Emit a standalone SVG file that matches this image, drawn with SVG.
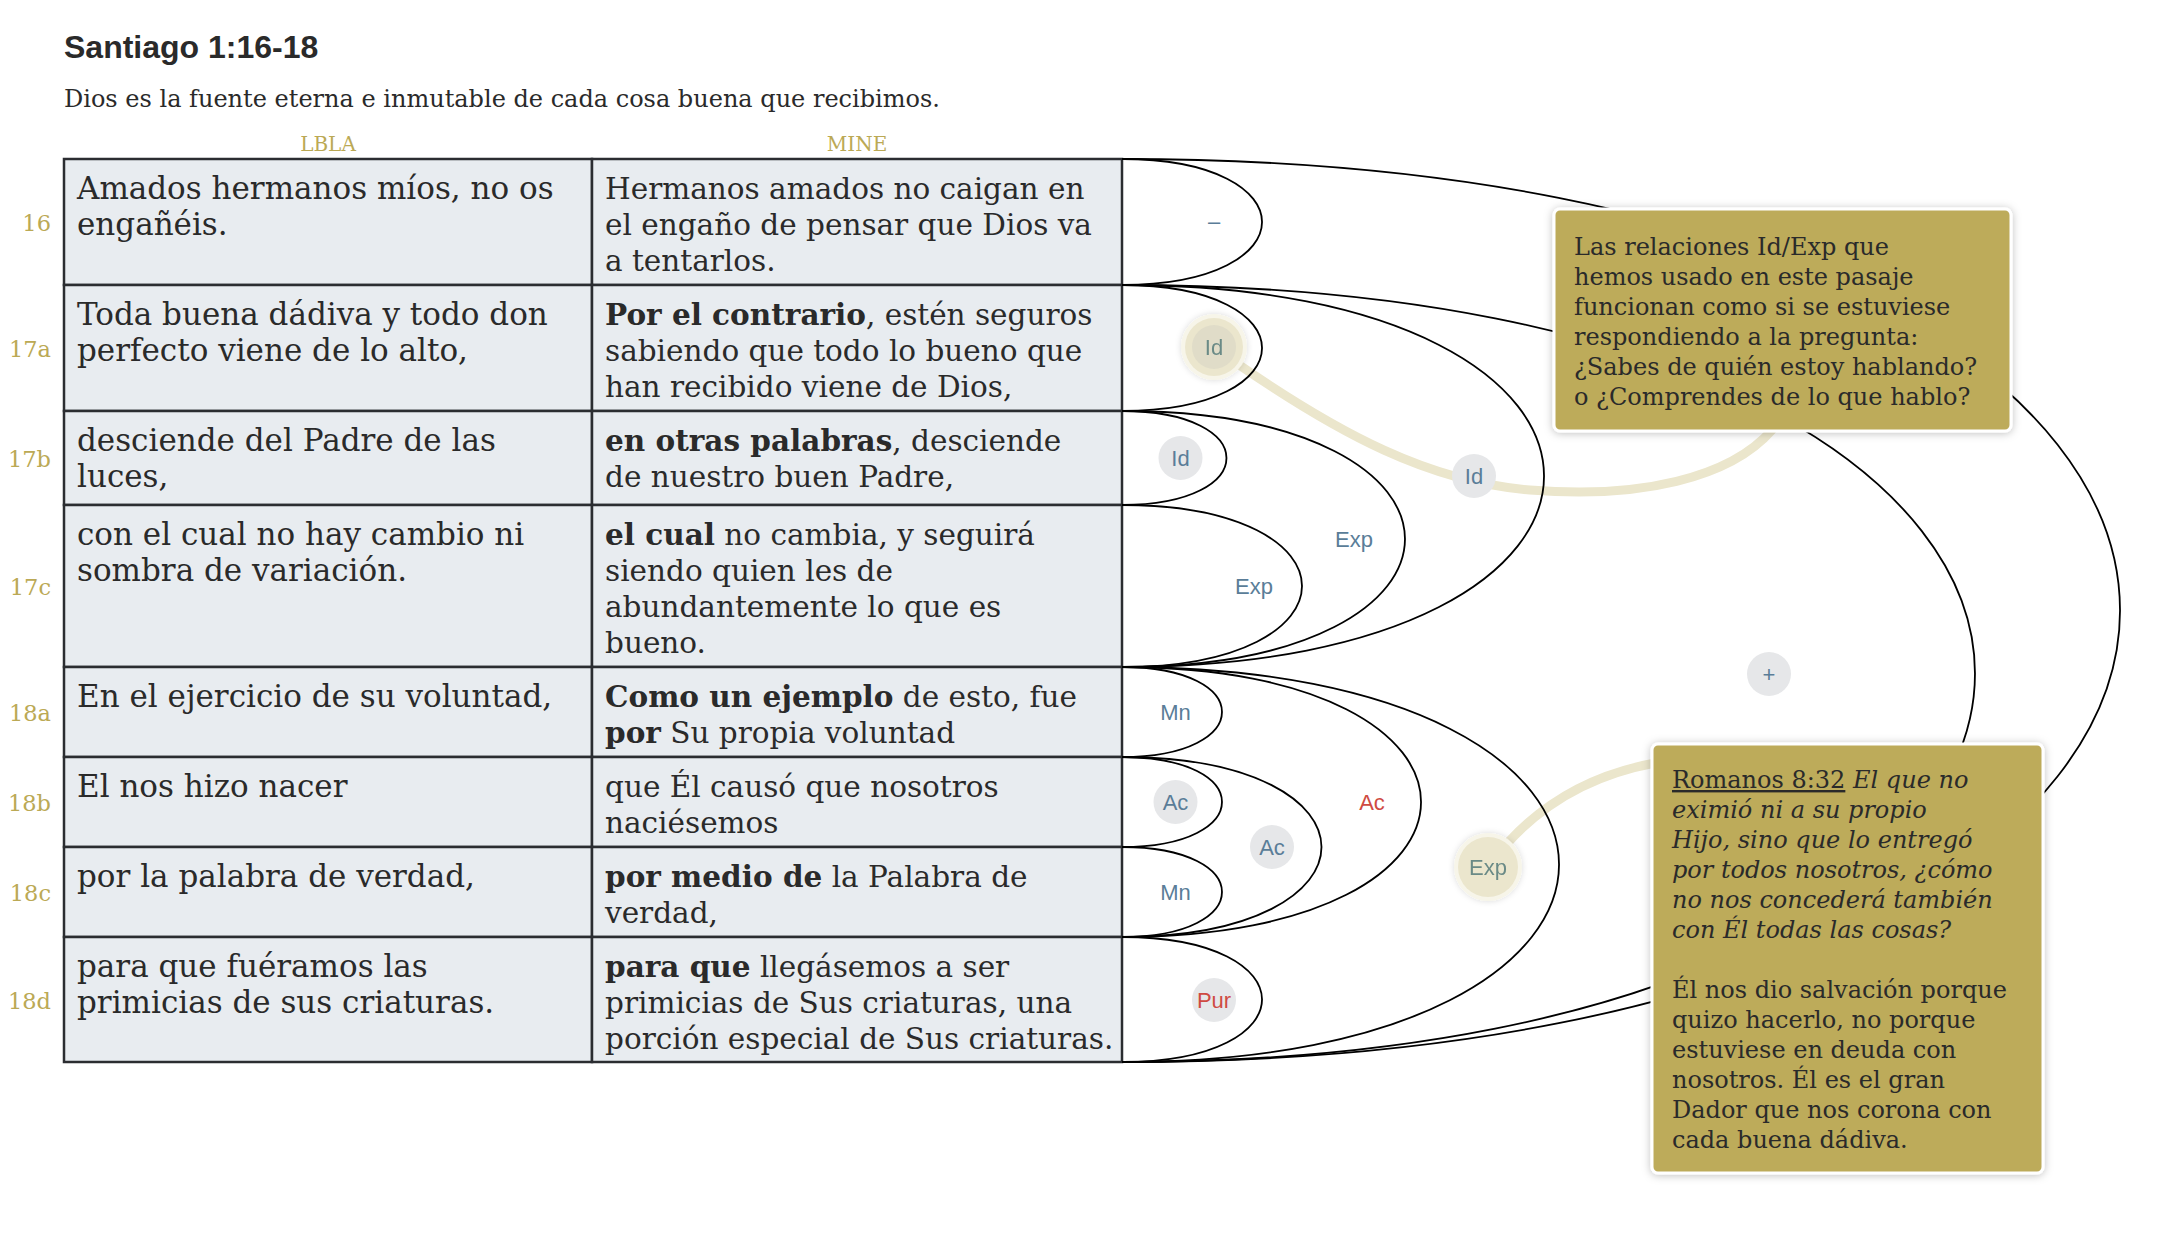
<svg xmlns="http://www.w3.org/2000/svg" width="2176" height="1234" viewBox="0 0 2176 1234">
<style>
.title{font-family:"Liberation Sans",Arial,sans-serif;font-weight:bold;font-size:32px;fill:#2a2a2a}
.sub{font-family:"DejaVu Serif",Georgia,serif;font-size:24px;fill:#2a2a2a}
.hdr{font-family:"DejaVu Serif",Georgia,serif;font-size:20px;fill:#bba955;text-anchor:middle}
.vn{font-family:"DejaVu Serif",Georgia,serif;font-size:22.5px;fill:#bba955;text-anchor:end}
.cell{font-family:"DejaVu Serif",Georgia,serif;font-size:29.5px;fill:#2a2a2a}
.lb{font-size:31px}
.b{font-weight:bold}
.row{fill:#e8ecf0;stroke:#2b2d31;stroke-width:2.5}
.arc{fill:none;stroke:#000;stroke-width:1.8}
.lbl{font-family:"Liberation Sans",Arial,sans-serif;font-size:22px;fill:#5a7d98;text-anchor:middle}
.red{fill:#cf4a42}
.hl{fill:#6a8a86}
.dot{fill:#e6e7e9}
.glow{fill:#f7f5e9}
.glow2{fill:#ebe6cd}
.gline{fill:none;stroke:#ebe6cc;stroke-width:9;stroke-linecap:round}
.note{fill:#bdab5a;stroke:#ffffff;stroke-width:3}
.nt{font-family:"DejaVu Serif",Georgia,serif;font-size:24px;fill:#2a2a2a}
</style>
<defs>
<filter id="sh" x="-20%" y="-20%" width="140%" height="140%">
<feDropShadow dx="0" dy="1" stdDeviation="4" flood-color="#000" flood-opacity="0.25"/>
</filter>
<filter id="sh2" x="-40%" y="-40%" width="180%" height="180%">
<feDropShadow dx="0" dy="0" stdDeviation="3" flood-color="#000" flood-opacity="0.15"/>
</filter>
</defs>
<rect width="2176" height="1234" fill="#ffffff"/>

<text class="title" x="64" y="58">Santiago 1:16-18</text>
<text class="sub" x="64" y="107">Dios es la fuente eterna e inmutable de cada cosa buena que recibimos.</text>
<text class="hdr" x="328" y="151">LBLA</text>
<text class="hdr" x="857" y="151">MINE</text>

<g id="table">
<g id="row-16">
<rect class="row" x="64" y="159" width="528" height="126"/>
<rect class="row" x="592" y="159" width="530" height="126"/>
<text class="vn" x="51" y="231">16</text>
<text class="cell lb" x="77" y="199">Amados hermanos míos, no os</text>
<text class="cell lb" x="77" y="235">engañéis.</text>
<text class="cell" x="605" y="199">Hermanos amados no caigan en</text>
<text class="cell" x="605" y="235">el engaño de pensar que Dios va</text>
<text class="cell" x="605" y="271">a tentarlos.</text>
</g>
<g id="row-17a">
<rect class="row" x="64" y="285" width="528" height="126"/>
<rect class="row" x="592" y="285" width="530" height="126"/>
<text class="vn" x="51" y="357">17a</text>
<text class="cell lb" x="77" y="325">Toda buena dádiva y todo don</text>
<text class="cell lb" x="77" y="361">perfecto viene de lo alto,</text>
<text class="cell" x="605" y="325"><tspan class="b">Por el contrario</tspan>, estén seguros</text>
<text class="cell" x="605" y="361">sabiendo que todo lo bueno que</text>
<text class="cell" x="605" y="397">han recibido viene de Dios,</text>
</g>
<g id="row-17b">
<rect class="row" x="64" y="411" width="528" height="94"/>
<rect class="row" x="592" y="411" width="530" height="94"/>
<text class="vn" x="51" y="467">17b</text>
<text class="cell lb" x="77" y="451">desciende del Padre de las</text>
<text class="cell lb" x="77" y="487">luces,</text>
<text class="cell" x="605" y="451"><tspan class="b">en otras palabras</tspan>, desciende</text>
<text class="cell" x="605" y="487">de nuestro buen Padre,</text>
</g>
<g id="row-17c">
<rect class="row" x="64" y="505" width="528" height="162"/>
<rect class="row" x="592" y="505" width="530" height="162"/>
<text class="vn" x="51" y="595">17c</text>
<text class="cell lb" x="77" y="545">con el cual no hay cambio ni</text>
<text class="cell lb" x="77" y="581">sombra de variación.</text>
<text class="cell" x="605" y="545"><tspan class="b">el cual</tspan> no cambia, y seguirá</text>
<text class="cell" x="605" y="581">siendo quien les de</text>
<text class="cell" x="605" y="617">abundantemente lo que es</text>
<text class="cell" x="605" y="653">bueno.</text>
</g>
<g id="row-18a">
<rect class="row" x="64" y="667" width="528" height="90"/>
<rect class="row" x="592" y="667" width="530" height="90"/>
<text class="vn" x="51" y="721">18a</text>
<text class="cell lb" x="77" y="707">En el ejercicio de su voluntad,</text>
<text class="cell" x="605" y="707"><tspan class="b">Como un ejemplo</tspan> de esto, fue</text>
<text class="cell" x="605" y="743"><tspan class="b">por</tspan> Su propia voluntad</text>
</g>
<g id="row-18b">
<rect class="row" x="64" y="757" width="528" height="90"/>
<rect class="row" x="592" y="757" width="530" height="90"/>
<text class="vn" x="51" y="811">18b</text>
<text class="cell lb" x="77" y="797">El nos hizo nacer</text>
<text class="cell" x="605" y="797">que Él causó que nosotros</text>
<text class="cell" x="605" y="833">naciésemos</text>
</g>
<g id="row-18c">
<rect class="row" x="64" y="847" width="528" height="90"/>
<rect class="row" x="592" y="847" width="530" height="90"/>
<text class="vn" x="51" y="901">18c</text>
<text class="cell lb" x="77" y="887">por la palabra de verdad,</text>
<text class="cell" x="605" y="887"><tspan class="b">por medio de</tspan> la Palabra de</text>
<text class="cell" x="605" y="923">verdad,</text>
</g>
<g id="row-18d">
<rect class="row" x="64" y="937" width="528" height="125"/>
<rect class="row" x="592" y="937" width="530" height="125"/>
<text class="vn" x="51" y="1009">18d</text>
<text class="cell lb" x="77" y="977">para que fuéramos las</text>
<text class="cell lb" x="77" y="1013">primicias de sus criaturas.</text>
<text class="cell" x="605" y="977"><tspan class="b">para que</tspan> llegásemos a ser</text>
<text class="cell" x="605" y="1013">primicias de Sus criaturas, una</text>
<text class="cell" x="605" y="1049">porción especial de Sus criaturas.</text>
</g>
</g>

<g id="highlight-links">
<path class="gline" d="M1232 360 C1340 435 1430 482 1530 490 C1640 499 1730 478 1772 430"/>
<path class="gline" d="M1492 862 Q1552 782 1655 763"/>
</g>

<g id="connectors">
<path class="arc" d="M1122 159 C2452.7 159 2452.7 1062 1122 1062"/>
<path class="arc" d="M1122 285 C2259.3 285 2259.3 1062 1122 1062"/>
<path class="arc" d="M1122 159 C1308.7 159 1308.7 285 1122 285"/>
<path class="arc" d="M1122 285 C1308.7 285 1308.7 411 1122 411"/>
<path class="arc" d="M1122 411 C1261.3 411 1261.3 505 1122 505"/>
<path class="arc" d="M1122 505 C1362 505 1362 667 1122 667"/>
<path class="arc" d="M1122 411 C1499.3 411 1499.3 667 1122 667"/>
<path class="arc" d="M1122 285 C1684.7 285 1684.7 667 1122 667"/>
<path class="arc" d="M1122 667 C1255.3 667 1255.3 757 1122 757"/>
<path class="arc" d="M1122 757 C1255.3 757 1255.3 847 1122 847"/>
<path class="arc" d="M1122 847 C1255.3 847 1255.3 937 1122 937"/>
<path class="arc" d="M1122 757 C1388 757 1388 937 1122 937"/>
<path class="arc" d="M1122 667 C1520.7 667 1520.7 937 1122 937"/>
<path class="arc" d="M1122 937 C1308.7 937 1308.7 1062 1122 1062"/>
<path class="arc" d="M1122 667 C1704.7 667 1704.7 1062 1122 1062"/>
</g>

<g id="label-16"><text class="lbl" x="1214" y="229">–</text></g>
<g id="label-17a" filter="url(#sh2)">
<circle class="glow" cx="1214" cy="347" r="33"/>
<circle class="glow2" cx="1214" cy="347" r="29"/>
<circle cx="1214" cy="347" r="22" fill="#e0dcc8"/>
<text class="lbl hl" x="1214" y="355">Id</text>
</g>
<g id="label-17b"><circle class="dot" cx="1180.5" cy="458" r="22"/><text class="lbl" x="1180.5" y="466">Id</text></g>
<g id="label-17c"><text class="lbl" x="1254" y="594">Exp</text></g>
<g id="label-17b-17c"><text class="lbl" x="1354" y="547">Exp</text></g>
<g id="label-17a-17c"><circle class="dot" cx="1474" cy="476" r="22"/><text class="lbl" x="1474" y="484">Id</text></g>
<g id="label-17a-18d"><circle class="dot" cx="1769" cy="674" r="22"/><text class="lbl" x="1769" y="682">+</text></g>
<g id="label-18a"><text class="lbl" x="1175.5" y="720">Mn</text></g>
<g id="label-18b"><circle class="dot" cx="1175.5" cy="802" r="22"/><text class="lbl" x="1175.5" y="810">Ac</text></g>
<g id="label-18c"><text class="lbl" x="1175.5" y="900">Mn</text></g>
<g id="label-18b-18c"><circle class="dot" cx="1272" cy="847" r="22"/><text class="lbl" x="1272" y="855">Ac</text></g>
<g id="label-18a-18c"><text class="lbl red" x="1372" y="810">Ac</text></g>
<g id="label-18d"><circle class="dot" cx="1214" cy="1000" r="22"/><text class="lbl red" x="1214" y="1008">Pur</text></g>
<g id="label-18a-18d" filter="url(#sh2)">
<circle class="glow" cx="1488" cy="867" r="34"/>
<circle class="glow2" cx="1488" cy="867" r="30"/>
<text class="lbl hl" x="1488" y="875">Exp</text>
</g>

<g id="note-1">
<rect class="note" x="1554" y="209" width="457" height="222" rx="6" filter="url(#sh)"/>
<text class="nt" x="1574" y="255">Las relaciones Id/Exp que</text>
<text class="nt" x="1574" y="285">hemos usado en este pasaje</text>
<text class="nt" x="1574" y="315">funcionan como si se estuviese</text>
<text class="nt" x="1574" y="345">respondiendo a la pregunta:</text>
<text class="nt" x="1574" y="375">¿Sabes de quién estoy hablando?</text>
<text class="nt" x="1574" y="405">o ¿Comprendes de lo que hablo?</text>
</g>
<g id="note-2">
<rect class="note" x="1652" y="744" width="391" height="429" rx="6" filter="url(#sh)"/>
<text class="nt" x="1672" y="788"><tspan text-decoration="underline">Romanos 8:32</tspan> <tspan font-style="italic">El que no</tspan></text>
<text class="nt" x="1672" y="818" font-style="italic">eximió ni a su propio</text>
<text class="nt" x="1672" y="848" font-style="italic">Hijo, sino que lo entregó</text>
<text class="nt" x="1672" y="878" font-style="italic">por todos nosotros, ¿cómo</text>
<text class="nt" x="1672" y="908" font-style="italic">no nos concederá también</text>
<text class="nt" x="1672" y="938" font-style="italic">con Él todas las cosas?</text>
<text class="nt" x="1672" y="998">Él nos dio salvación porque</text>
<text class="nt" x="1672" y="1028">quizo hacerlo, no porque</text>
<text class="nt" x="1672" y="1058">estuviese en deuda con</text>
<text class="nt" x="1672" y="1088">nosotros. Él es el gran</text>
<text class="nt" x="1672" y="1118">Dador que nos corona con</text>
<text class="nt" x="1672" y="1148">cada buena dádiva.</text>
</g>
</svg>
